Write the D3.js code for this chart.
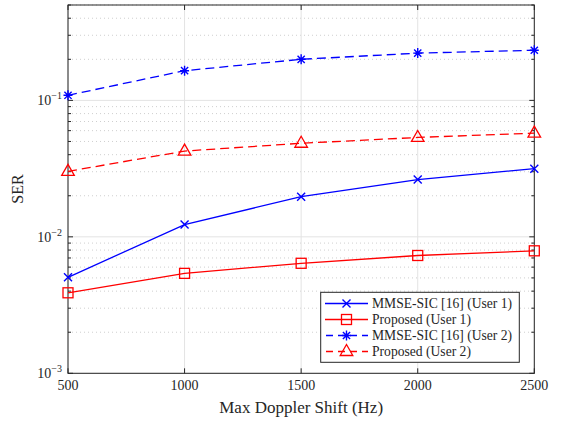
<!DOCTYPE html>
<html>
<head>
<meta charset="utf-8">
<script src="https://cdn.jsdelivr.net/npm/d3@7"></script>
<style>
body{margin:0;background:#fff;}
</style>
</head>
<body>
<script>
// data
const doppler=[500,1000,1500,2000,2500];
const mmseUser1=[0.00505,0.0123,0.0197,0.0263,0.0316];
const propUser1=[0.00389,0.0054,0.0064,0.0073,0.0079];
const mmseUser2=[0.109,0.165,0.200,0.222,0.233];
const propUser2=[0.0302,0.0425,0.0485,0.0535,0.0575];
const seriesNames=["MMSE-SIC [16] (User 1)","Proposed (User 1)","MMSE-SIC [16] (User 2)","Proposed (User 2)"];
const xTicks=[500,1000,1500,2000,2500];
const yTicks=[1e-3,1e-2,1e-1];
const yTickLabels=["\u22123","\u22122","\u22121"];

const w=561,h=422;
const L=68,R=534.3,T=5,B=373.3;
const FONT="'Liberation Serif', 'Times New Roman', 'DejaVu Serif', serif";

const svg=d3.select("body").append("svg").attr("width",w).attr("height",h)
  .attr("font-family",FONT);

const x=d3.scaleLinear().domain([500,2500]).range([L,R]);
const y=d3.scaleLog().domain([1e-3,0.5]).range([B,T]);

// minor values
const minor=[];
[1e-3,1e-2,1e-1].forEach(d=>{for(let k=2;k<=9;k++){if(d*k<=0.5)minor.push(d*k)}});

//grid
const grid=svg.append("g");
grid.selectAll(".mg").data(minor).enter().append("line")
  .attr("x1",L).attr("x2",R).attr("y1",d=>y(d)).attr("y2",d=>y(d))
  .attr("stroke","#cfcfcf").attr("stroke-width",1).attr("stroke-dasharray","1,3");
grid.selectAll(".yg").data(yTicks).enter().append("line")
  .attr("x1",L).attr("x2",R).attr("y1",d=>y(d)).attr("y2",d=>y(d))
  .attr("stroke","#e3e3e3").attr("stroke-width",1);
grid.selectAll(".xg").data(xTicks).enter().append("line")
  .attr("y1",T).attr("y2",B).attr("x1",d=>x(d)).attr("x2",d=>x(d))
  .attr("stroke","#e3e3e3").attr("stroke-width",1);

// frame + ticks
const ax=svg.append("g").attr("stroke","#262626").attr("stroke-width",1);
ax.append("rect").attr("x",L).attr("y",T).attr("width",R-L).attr("height",B-T).attr("fill","none");
xTicks.forEach(d=>{
  ax.append("line").attr("x1",x(d)).attr("x2",x(d)).attr("y1",B).attr("y2",B-5);
  ax.append("line").attr("x1",x(d)).attr("x2",x(d)).attr("y1",T).attr("y2",T+5);
});
yTicks.forEach(d=>{
  ax.append("line").attr("x1",L).attr("x2",L+5).attr("y1",y(d)).attr("y2",y(d));
  ax.append("line").attr("x1",R).attr("x2",R-5).attr("y1",y(d)).attr("y2",y(d));
});
minor.forEach(d=>{
  ax.append("line").attr("x1",L).attr("x2",L+3).attr("y1",y(d)).attr("y2",y(d));
  ax.append("line").attr("x1",R).attr("x2",R-3).attr("y1",y(d)).attr("y2",y(d));
});

// tick labels
svg.selectAll(".xl").data(xTicks).enter().append("text")
  .attr("x",d=>x(d)).attr("y",B+17).attr("text-anchor","middle").attr("font-size",14)
  .attr("fill","#262626").text(d=>d);
yTicks.forEach((d,i)=>{
  const t=svg.append("text").attr("x",L-6).attr("y",y(d)+5).attr("text-anchor","end")
    .attr("font-size",14).attr("fill","#262626");
  t.append("tspan").text("10");
  t.append("tspan").attr("dy",-6).attr("font-size",10).text(yTickLabels[i]);
});

svg.append("text").attr("x",(L+R)/2).attr("y",413).attr("text-anchor","middle").attr("font-size",17)
  .attr("fill","#262626").text("Max Doppler Shift (Hz)");
svg.append("text").attr("transform","translate(23,189) rotate(-90)").attr("text-anchor","middle")
  .attr("font-size",16).attr("fill","#262626").text("SER");

// markers
function marker(g,type,color){
  if(type==="x"){
    g.append("path").attr("d","M-4,-4L4,4M-4,4L4,-4").attr("stroke",color).attr("stroke-width",1.4).attr("fill","none");
  }else if(type==="sq"){
    g.append("rect").attr("x",-5).attr("y",-5).attr("width",10).attr("height",10).attr("stroke",color).attr("stroke-width",1.3).attr("fill","none");
  }else if(type==="ast"){
    g.append("path").attr("d","M0,-5L0,5M-4.5,0L4.5,0M-3.6,-3.6L3.6,3.6M-3.6,3.6L3.6,-3.6").attr("stroke",color).attr("stroke-width",1.4).attr("fill","none");
  }else{
    g.append("path").attr("d","M0,-7L6.3,4L-6.3,4Z").attr("stroke",color).attr("stroke-width",1.3).attr("fill","none");
  }
}

const series=[
  {vals:mmseUser1,color:"#0000ff",dash:null,m:"x"},
  {vals:propUser1,color:"#ff0000",dash:null,m:"sq"},
  {vals:mmseUser2,color:"#0000ff",dash:"9,5",m:"ast"},
  {vals:propUser2,color:"#ff0000",dash:"9,5",m:"tri"}
];
const line=d3.line().x(d=>x(d[0])).y(d=>y(d[1]));
series.forEach(s=>{
  const pts=doppler.map((d,i)=>[d,s.vals[i]]);
  svg.append("path").datum(pts).attr("d",line).attr("fill","none")
    .attr("stroke",s.color).attr("stroke-width",1.3).attr("stroke-dasharray",s.dash);
  pts.forEach(p=>{
    const g=svg.append("g").attr("transform","translate("+x(p[0])+","+y(p[1])+")");
    marker(g,s.m,s.color);
  });
});

//legend
const lg=svg.append("g");
lg.append("rect").attr("x",320.7).attr("y",292.3).attr("width",198.6).attr("height",70)
  .attr("fill","#fff").attr("stroke","#262626").attr("stroke-width",1);
series.forEach((s,i)=>{
  const yy=303.5+i*16;
  lg.append("line").attr("x1",325).attr("x2",368).attr("y1",yy).attr("y2",yy)
    .attr("stroke",s.color).attr("stroke-width",1.3).attr("stroke-dasharray",s.dash?"7,5":null)
    .attr("stroke-dashoffset",s.dash?-1:0);
  const g=lg.append("g").attr("transform","translate(346.5,"+yy+")");
  marker(g,s.m,s.color);
  lg.append("text").attr("x",372).attr("y",yy+4.5).attr("font-size",13.6).attr("fill","#262626").text(seriesNames[i]);
});
</script>
</body>
</html>
